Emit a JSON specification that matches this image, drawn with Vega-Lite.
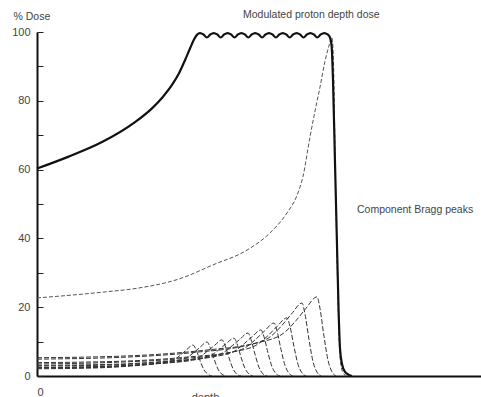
{
  "$schema": "https://vega.github.io/schema/vega-lite/v6.json",
  "width": 444,
  "height": 344,
  "autosize": {"type": "none"},
  "padding": {"left": 37, "top": 32, "right": 0, "bottom": 21},
  "background": "white",
  "config": {
    "view": {"stroke": null},
    "font": "Liberation Sans"
  },
  "datasets": {
    "modulated": [
      {"d": 0, "dose": 60.3}, {"d": 15.5, "dose": 63.7}, {"d": 32.5, "dose": 68}, {"d": 49, "dose": 73.8},
      {"d": 57.5, "dose": 77.8}, {"d": 63, "dose": 81.2}, {"d": 67.5, "dose": 84.6}, {"d": 71, "dose": 88},
      {"d": 74, "dose": 91.8}, {"d": 76.5, "dose": 95.2}, {"d": 78.5, "dose": 97.8}, {"d": 80, "dose": 99.2},
      {"d": 81.5, "dose": 99.7}, {"d": 83.2, "dose": 99.3},
      {"d": 84.95, "dose": 98.4}, {"d": 86.7, "dose": 99.3}, {"d": 88.4, "dose": 99.7}, {"d": 90.1, "dose": 99.3},
      {"d": 91.85, "dose": 98.4}, {"d": 93.6, "dose": 99.3}, {"d": 95.3, "dose": 99.7}, {"d": 97.0, "dose": 99.3},
      {"d": 98.75, "dose": 98.4}, {"d": 100.5, "dose": 99.3}, {"d": 102.2, "dose": 99.7}, {"d": 103.9, "dose": 99.3},
      {"d": 105.65, "dose": 98.4}, {"d": 107.4, "dose": 99.3}, {"d": 109.1, "dose": 99.7}, {"d": 110.8, "dose": 99.3},
      {"d": 112.55, "dose": 98.4}, {"d": 114.3, "dose": 99.3}, {"d": 116.0, "dose": 99.7}, {"d": 117.7, "dose": 99.3},
      {"d": 119.45, "dose": 98.4}, {"d": 121.2, "dose": 99.3}, {"d": 122.9, "dose": 99.7}, {"d": 124.6, "dose": 99.3},
      {"d": 126.35, "dose": 98.4}, {"d": 128.1, "dose": 99.3}, {"d": 129.8, "dose": 99.7}, {"d": 131.5, "dose": 99.3},
      {"d": 133.25, "dose": 98.4}, {"d": 135.0, "dose": 99.3}, {"d": 136.7, "dose": 99.7}, {"d": 138.4, "dose": 99.3},
      {"d": 140.15, "dose": 98.4}, {"d": 141.9, "dose": 99.3}, {"d": 143.6, "dose": 99.7}, {"d": 145.3, "dose": 99.3},
      {"d": 146.5, "dose": 98.4}, {"d": 147.3, "dose": 96}, {"d": 148, "dose": 86}, {"d": 149, "dose": 62},
      {"d": 150, "dose": 38}, {"d": 150.8, "dose": 19}, {"d": 151.5, "dose": 8}, {"d": 152.5, "dose": 3.5},
      {"d": 154, "dose": 1.2}, {"d": 156, "dose": 0.3}, {"d": 157.5, "dose": 0}
    ],
    "pristine": [
      {"d": 0, "dose": 22.7}, {"d": 15, "dose": 23.4}, {"d": 35, "dose": 24.5}, {"d": 50, "dose": 25.5},
      {"d": 71.5, "dose": 28.3}, {"d": 88, "dose": 32.3}, {"d": 105, "dose": 36.6}, {"d": 116.5, "dose": 41.6},
      {"d": 125, "dose": 47.4}, {"d": 130, "dose": 52.5}, {"d": 133, "dose": 58}, {"d": 136.5, "dose": 69.5},
      {"d": 139, "dose": 77}, {"d": 141.5, "dose": 84}, {"d": 144, "dose": 91.5}, {"d": 146, "dose": 96},
      {"d": 147.5, "dose": 98.5}, {"d": 148.3, "dose": 90}, {"d": 149, "dose": 65}, {"d": 150, "dose": 35},
      {"d": 151, "dose": 12}, {"d": 152, "dose": 3}, {"d": 153.5, "dose": 0.5}, {"d": 155, "dose": 0}
    ],
    "components": [
      {"comp": 1, "d": 0, "dose": 2.1}, {"comp": 1, "d": 26.5, "dose": 2.3}, {"comp": 1, "d": 46.8, "dose": 2.9},
      {"comp": 1, "d": 61.6, "dose": 3.8}, {"comp": 1, "d": 68.6, "dose": 4.8}, {"comp": 1, "d": 72.2, "dose": 6.3},
      {"comp": 1, "d": 74.9, "dose": 7.7}, {"comp": 1, "d": 78, "dose": 9.0}, {"comp": 1, "d": 79.5, "dose": 7.7},
      {"comp": 1, "d": 81.5, "dose": 4.5}, {"comp": 1, "d": 83.5, "dose": 1.8}, {"comp": 1, "d": 85.5, "dose": 0.5},
      {"comp": 1, "d": 87.5, "dose": 0},

      {"comp": 2, "d": 0, "dose": 2.3}, {"comp": 2, "d": 28.9, "dose": 2.5}, {"comp": 2, "d": 51, "dose": 3.2},
      {"comp": 2, "d": 67.2, "dose": 4.2}, {"comp": 2, "d": 74.8, "dose": 5.3}, {"comp": 2, "d": 78.6, "dose": 6.9},
      {"comp": 2, "d": 81.6, "dose": 8.4}, {"comp": 2, "d": 85, "dose": 9.9}, {"comp": 2, "d": 86.5, "dose": 8.4},
      {"comp": 2, "d": 88.5, "dose": 5.0}, {"comp": 2, "d": 90.5, "dose": 2.0}, {"comp": 2, "d": 92.5, "dose": 0.5},
      {"comp": 2, "d": 94.5, "dose": 0},

      {"comp": 3, "d": 0, "dose": 2.4}, {"comp": 3, "d": 31.5, "dose": 2.7}, {"comp": 3, "d": 55.5, "dose": 3.4},
      {"comp": 3, "d": 73.1, "dose": 4.4}, {"comp": 3, "d": 81.4, "dose": 5.6}, {"comp": 3, "d": 85.6, "dose": 7.4},
      {"comp": 3, "d": 88.8, "dose": 8.9}, {"comp": 3, "d": 92.5, "dose": 10.5}, {"comp": 3, "d": 94, "dose": 8.9},
      {"comp": 3, "d": 96, "dose": 5.3}, {"comp": 3, "d": 98, "dose": 2.1}, {"comp": 3, "d": 100, "dose": 0.5},
      {"comp": 3, "d": 102, "dose": 0},

      {"comp": 4, "d": 0, "dose": 2.5}, {"comp": 4, "d": 33.5, "dose": 2.8}, {"comp": 4, "d": 59.1, "dose": 3.6},
      {"comp": 4, "d": 77.8, "dose": 4.6}, {"comp": 4, "d": 86.7, "dose": 5.9}, {"comp": 4, "d": 91.1, "dose": 7.7},
      {"comp": 4, "d": 94.6, "dose": 9.4}, {"comp": 4, "d": 98.5, "dose": 11.0}, {"comp": 4, "d": 100, "dose": 9.4},
      {"comp": 4, "d": 102, "dose": 5.5}, {"comp": 4, "d": 104, "dose": 2.2}, {"comp": 4, "d": 106, "dose": 0.6},
      {"comp": 4, "d": 108, "dose": 0},

      {"comp": 5, "d": 0, "dose": 2.9}, {"comp": 5, "d": 35.9, "dose": 3.2}, {"comp": 5, "d": 63.3, "dose": 4.1},
      {"comp": 5, "d": 83.3, "dose": 5.3}, {"comp": 5, "d": 92.8, "dose": 6.7}, {"comp": 5, "d": 97.6, "dose": 8.8},
      {"comp": 5, "d": 101.3, "dose": 10.6}, {"comp": 5, "d": 105.5, "dose": 12.5}, {"comp": 5, "d": 107, "dose": 10.6},
      {"comp": 5, "d": 109, "dose": 6.3}, {"comp": 5, "d": 111, "dose": 2.5}, {"comp": 5, "d": 113, "dose": 0.6},
      {"comp": 5, "d": 115, "dose": 0},

      {"comp": 6, "d": 0, "dose": 3.1}, {"comp": 6, "d": 38.1, "dose": 3.4}, {"comp": 6, "d": 67.2, "dose": 4.4},
      {"comp": 6, "d": 88.5, "dose": 5.6}, {"comp": 6, "d": 98.6, "dose": 7.2}, {"comp": 6, "d": 103.6, "dose": 9.4},
      {"comp": 6, "d": 107.5, "dose": 11.4}, {"comp": 6, "d": 112, "dose": 13.4}, {"comp": 6, "d": 113.5, "dose": 11.4},
      {"comp": 6, "d": 115.5, "dose": 6.7}, {"comp": 6, "d": 117.5, "dose": 2.7}, {"comp": 6, "d": 119.5, "dose": 0.7},
      {"comp": 6, "d": 121.5, "dose": 0},

      {"comp": 7, "d": 0, "dose": 3.5}, {"comp": 7, "d": 40.3, "dose": 4.0}, {"comp": 7, "d": 71.1, "dose": 5.0},
      {"comp": 7, "d": 93.6, "dose": 6.5}, {"comp": 7, "d": 104.3, "dose": 8.3}, {"comp": 7, "d": 109.6, "dose": 10.8},
      {"comp": 7, "d": 113.8, "dose": 13.1}, {"comp": 7, "d": 118.5, "dose": 15.4}, {"comp": 7, "d": 120, "dose": 13.1},
      {"comp": 7, "d": 122, "dose": 7.7}, {"comp": 7, "d": 124, "dose": 3.1}, {"comp": 7, "d": 126, "dose": 0.8},
      {"comp": 7, "d": 128, "dose": 0},

      {"comp": 8, "d": 0, "dose": 3.9}, {"comp": 8, "d": 42.5, "dose": 4.3}, {"comp": 8, "d": 75, "dose": 5.5},
      {"comp": 8, "d": 98.8, "dose": 7.1}, {"comp": 8, "d": 110, "dose": 9.1}, {"comp": 8, "d": 115.6, "dose": 11.8},
      {"comp": 8, "d": 120, "dose": 14.4}, {"comp": 8, "d": 125, "dose": 16.9}, {"comp": 8, "d": 126.5, "dose": 14.4},
      {"comp": 8, "d": 128.5, "dose": 8.5}, {"comp": 8, "d": 130.5, "dose": 3.4}, {"comp": 8, "d": 132.5, "dose": 0.9},
      {"comp": 8, "d": 134.5, "dose": 0},

      {"comp": 9, "d": 0, "dose": 4.9}, {"comp": 9, "d": 45.1, "dose": 5.5}, {"comp": 9, "d": 79.5, "dose": 6.9},
      {"comp": 9, "d": 104.7, "dose": 8.9}, {"comp": 9, "d": 116.6, "dose": 11.4}, {"comp": 9, "d": 122.6, "dose": 14.8},
      {"comp": 9, "d": 127.2, "dose": 18.0}, {"comp": 9, "d": 132.5, "dose": 21.2}, {"comp": 9, "d": 134, "dose": 18.0},
      {"comp": 9, "d": 136, "dose": 10.6}, {"comp": 9, "d": 138, "dose": 4.2}, {"comp": 9, "d": 140, "dose": 1.1},
      {"comp": 9, "d": 142, "dose": 0},

      {"comp": 10, "d": 0, "dose": 5.3}, {"comp": 10, "d": 47.6, "dose": 5.9}, {"comp": 10, "d": 84, "dose": 7.5},
      {"comp": 10, "d": 110.6, "dose": 9.7}, {"comp": 10, "d": 123.2, "dose": 12.4}, {"comp": 10, "d": 129.5, "dose": 16.1},
      {"comp": 10, "d": 134.4, "dose": 19.6}, {"comp": 10, "d": 140, "dose": 23.0}, {"comp": 10, "d": 141.5, "dose": 19.6},
      {"comp": 10, "d": 143.5, "dose": 11.5}, {"comp": 10, "d": 145.5, "dose": 4.6}, {"comp": 10, "d": 147.5, "dose": 1.2},
      {"comp": 10, "d": 149.5, "dose": 0}
    ],
    "notes": [
      {"d": 103, "dose": 104.9, "label": "Modulated proton depth dose"},
      {"d": 160, "dose": 48.3, "label": "Component Bragg peaks"}
    ],
    "arrow": [
      {"d": 114, "dose": -6.4, "label": "→"}
    ]
  },
  "encoding": {
    "x": {
      "field": "d",
      "type": "quantitative",
      "scale": {"domain": [0, 222], "nice": false, "zero": false},
      "axis": {
        "values": [0],
        "labelAlign": "left",
        "ticks": false,
        "labelPadding": 10,
        "labelFontSize": 11,
        "labelColor": "#444",
        "domainColor": "#111",
        "domainWidth": 2,
        "grid": false,
        "title": "depth",
        "titleX": 168,
        "titleY": 15,
        "titleBaseline": "top",
        "titleFontSize": 11,
        "titleFontWeight": "normal",
        "titleColor": "#444"
      }
    },
    "y": {
      "field": "dose",
      "type": "quantitative",
      "scale": {"domain": [0, 100], "nice": false},
      "axis": {
        "values": [0, 10, 20, 30, 40, 50, 60, 70, 80, 90, 100],
        "labelExpr": "datum.value % 20 === 0 ? datum.label : ''",
        "tickSize": -6,
        "tickColor": "#222",
        "tickWidth": 1,
        "domainColor": "#111",
        "domainWidth": 2,
        "labelPadding": 13,
        "labelFontSize": 11,
        "labelColor": "#444",
        "grid": false,
        "title": "% Dose",
        "titleAngle": 0,
        "titleAlign": "left",
        "titleBaseline": "middle",
        "titleX": -24,
        "titleY": -16,
        "titleFontSize": 10.5,
        "titleFontWeight": "normal",
        "titleColor": "#444"
      }
    }
  },
  "layer": [
    {
      "data": {"name": "components"},
      "mark": {"type": "line", "interpolate": "monotone", "strokeWidth": 1, "strokeDash": [5, 2], "color": "#333", "clip": false},
      "encoding": {"detail": {"field": "comp", "type": "nominal"}}
    },
    {
      "data": {"name": "pristine"},
      "mark": {"type": "line", "interpolate": "monotone", "strokeWidth": 1, "strokeDash": [4, 2], "color": "#555"},
      "encoding": {}
    },
    {
      "data": {"name": "modulated"},
      "mark": {"type": "line", "interpolate": "monotone", "strokeWidth": 2.2, "color": "#111"},
      "encoding": {}
    },
    {
      "data": {"name": "notes"},
      "mark": {"type": "text", "align": "left", "baseline": "middle", "fontSize": 10.5, "color": "#444", "clip": false},
      "encoding": {"text": {"field": "label"}}
    },
    {
      "data": {"name": "arrow"},
      "mark": {"type": "text", "align": "left", "baseline": "middle", "fontSize": 18, "color": "#333", "clip": false},
      "encoding": {"text": {"field": "label"}}
    }
  ]
}
